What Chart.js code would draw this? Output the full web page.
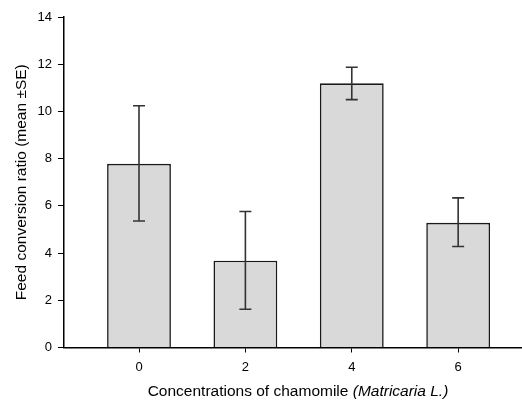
<!DOCTYPE html>
<html>
<head>
<meta charset="utf-8">
<script src="https://cdn.jsdelivr.net/npm/chart.js@4.4.0/dist/chart.umd.min.js"></script>
<style>
  body { margin: 0; background: #fff; }
  #wrap { width: 522px; height: 400px; }
</style>
</head>
<body>
<div id="wrap"><canvas id="myChart" width="522" height="400"></canvas></div>
<script>
// data
var concentrations = [0, 2, 4, 6];
var fcrMean = [7.78, 3.68, 11.19, 5.28];
var seLow = [5.36, 1.62, 10.5, 4.28];
var seHigh = [10.24, 5.76, 11.87, 6.34];
var yTicks = [0, 2, 4, 6, 8, 10, 12, 14];

var font = 'Arial, "Liberation Sans", sans-serif';

// error bars drawn from the scales
var errorBars = {
  id: 'errorBars',
  afterDatasetsDraw: function (chart) {
    var c = chart.ctx, xs = chart.scales.x, ys = chart.scales.y;
    c.save();
    c.strokeStyle = '#333';
    c.lineWidth = 1.6;
    for (var i = 0; i < concentrations.length; i++) {
      var x = xs.getPixelForValue(concentrations[i]);
      var lo = ys.getPixelForValue(seLow[i]);
      var hi = ys.getPixelForValue(seHigh[i]);
      c.beginPath();
      c.moveTo(x, lo); c.lineTo(x, hi);
      c.moveTo(x - 6, lo); c.lineTo(x + 6, lo);
      c.moveTo(x - 6, hi); c.lineTo(x + 6, hi);
      c.stroke();
    }
    c.restore();
  }
};

// x title with italic part
var xTitle = {
  id: 'xTitle',
  afterDraw: function (chart) {
    var c = chart.ctx, a = chart.chartArea;
    var part1 = 'Concentrations of chamomile ';
    var part2 = '(Matricaria L.)';
    c.save();
    c.fillStyle = '#000';
    c.textBaseline = 'middle';
    c.font = '15.5px ' + font;
    var w1 = c.measureText(part1).width;
    c.font = 'italic 15.5px ' + font;
    var w2 = c.measureText(part2).width;
    var cx = 298;
    var x0 = cx - (w1 + w2) / 2;
    var y = 392;
    c.font = '15.5px ' + font;
    c.textAlign = 'left';
    c.fillText(part1, x0, y);
    c.font = 'italic 15.5px ' + font;
    c.fillText(part2, x0 + w1, y);
    c.restore();
  }
};

var ctx = document.getElementById('myChart').getContext('2d');

var myChart = new Chart(ctx, {
  type: 'bar',
  data: {
    datasets: [{
      label: 'Feed conversion ratio',
      data: concentrations.map(function (c, i) { return { x: c, y: fcrMean[i] }; }),
      backgroundColor: '#d9d9d9',
      borderColor: '#1a1a1a',
      borderWidth: 1.6,
      barPercentage: 0.6,
      categoryPercentage: 1
    }]
  },
  options: {
    responsive: false,
    animation: false,
    layout: { padding: { left: 0, right: 0, top: 17, bottom: 0 } },
    plugins: {
      legend: { display: false },
      tooltip: { enabled: false }
    },
    scales: {
      x: {
        type: 'linear',
        offset: false,
        min: -1.41,
        max: 7.2,
        afterBuildTicks: function (s) { s.ticks = concentrations.map(function (v) { return { value: v }; }); },
        afterFit: function (s) { s.height = 52.5; },
        grid: { display: true, offset: false, drawOnChartArea: false, drawTicks: true, tickLength: 5, color: '#000', lineWidth: 1 },
        border: { display: true, color: '#000', width: 1.5 },
        ticks: { color: '#000', padding: 7, font: { family: font, size: 13 } }
      },
      y: {
        min: 0,
        max: 14,
        afterBuildTicks: function (s) { s.ticks = yTicks.map(function (v) { return { value: v }; }); },
        afterFit: function (s) { s.width = 64; },
        grid: { display: true, drawOnChartArea: false, drawTicks: true, tickLength: 6, color: '#000', lineWidth: 1 },
        border: { display: true, color: '#000', width: 1.5 },
        ticks: { color: '#000', padding: 6, font: { family: font, size: 13 } },
        title: {
          display: true,
          text: 'Feed conversion ratio (mean \u00b1SE)',
          color: '#000',
          font: { family: font, size: 15.5 },
          padding: { top: 12, bottom: 0 }
        }
      }
    }
  },
  plugins: [errorBars, xTitle]
});
</script>
</body>
</html>
